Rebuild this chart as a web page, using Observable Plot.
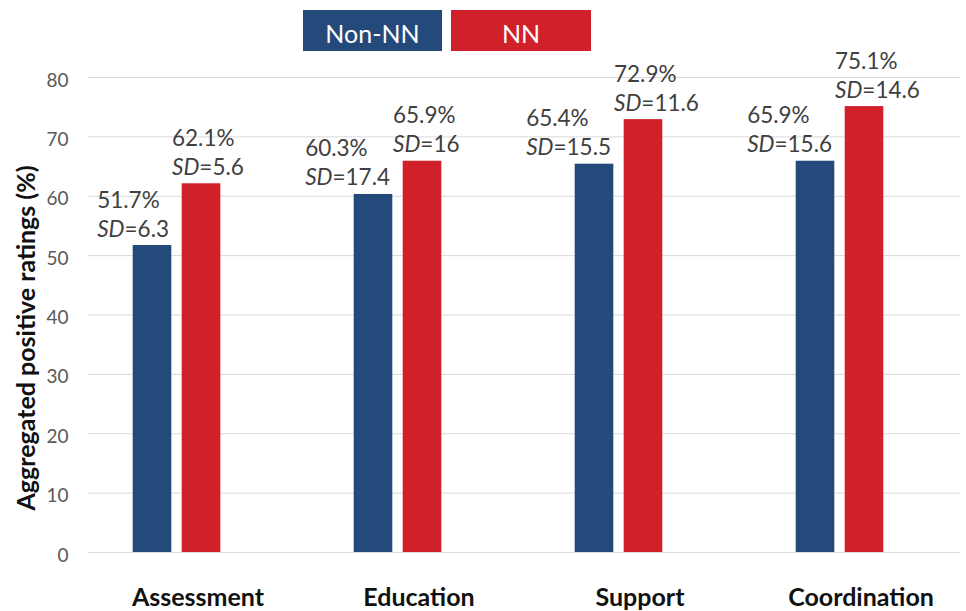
<!DOCTYPE html>
<html>
<head>
<meta charset="utf-8">
<script src="https://cdn.jsdelivr.net/npm/d3@7"></script>
<script src="https://cdn.jsdelivr.net/npm/@observablehq/plot@0.6"></script>
<style>
  html, body { margin: 0; padding: 0; background: #fff; }
  body { font-family: Lato, "Open Sans", sans-serif; width: 966px; }
  #legend { position: relative; height: 60px; }
  .key { position: absolute; top: 10px; height: 41px; line-height: 47px; overflow: hidden;
         color: #fff; font-size: 25px; text-align: center; }
  #chart svg { display: block; }
</style>
</head>
<body>
<div id="legend"></div>
<div id="chart"></div>
<script>
const categories = ["Assessment", "Education", "Support", "Coordination"];
const seriesNames = ["Non-NN", "NN"];
const nonNNValues = [51.7, 60.3, 65.4, 65.9];
const nnValues = [62.1, 65.9, 72.9, 75.1];
const nonNNSD = [6.3, 17.4, 15.5, 15.6];
const nnSD = [5.6, 16, 11.6, 14.6];
const yTicks = [0, 10, 20, 30, 40, 50, 60, 70, 80];
const seriesColors = ["#24497b", "#d0202a"];
const yLabel = "Aggregated positive ratings (%)";

const rows = categories.flatMap((c, i) => [
  {category: c, series: seriesNames[0], value: nonNNValues[i], sd: nonNNSD[i]},
  {category: c, series: seriesNames[1], value: nnValues[i], sd: nnSD[i]}
]);
const blueRows = rows.filter(d => d.series === seriesNames[0]);
const redRows = rows.filter(d => d.series === seriesNames[1]);

// Legend
const legend = document.getElementById("legend");
const keyLayout = [{left: 303, width: 139}, {left: 451, width: 140}];
seriesNames.forEach((name, i) => {
  const k = document.createElement("div");
  k.className = "key";
  k.style.left = keyLayout[i].left + "px";
  k.style.width = keyLayout[i].width + "px";
  k.style.background = seriesColors[i];
  k.textContent = name;
  legend.appendChild(k);
});

const labelFont = 22.5;
const labelColor = "#404040";

const svg = Plot.plot({
  width: 966,
  height: 551,
  marginTop: 17,
  marginBottom: 59,
  marginLeft: 88,
  marginRight: 6,
  style: {fontFamily: "Lato, 'Open Sans', sans-serif", background: "#fff", overflow: "visible"},
  x: {domain: categories, range: [63.9, 951.6], padding: 0},
  y: {domain: [0, 80]},
  color: {domain: seriesNames, range: seriesColors},
  marks: [
    Plot.gridY(yTicks, {stroke: "#d9d9d9", strokeOpacity: 1, strokeWidth: 1}),
    Plot.axisY(yTicks, {tickSize: 0, tickPadding: 20, fontSize: 19, fill: "#595959", dy: 3, label: null}),
    Plot.axisX({tickSize: 0, tickPadding: 36, fontSize: 25, fontWeight: "bold", fill: "#111", dx: 21, label: null}),
    Plot.barY(blueRows, {x: "category", y: "value", fill: "series", dx: -24.5, insetLeft: 91.2, insetRight: 91.2}),
    Plot.barY(redRows, {x: "category", y: "value", fill: "series", dx: 24.5, insetLeft: 91.2, insetRight: 91.2}),
    Plot.text(blueRows, {x: "category", y: "value", text: d => `${d.value}%`, dx: -8, dy: -38,
      textAnchor: "end", lineAnchor: "bottom", fontSize: labelFont, fill: labelColor}),
    Plot.text(blueRows, {x: "category", y: "value", text: d => `SD=${d.sd}`, dx: -8, dy: -9,
      textAnchor: "end", lineAnchor: "bottom", fontSize: labelFont, fill: labelColor}),
    Plot.text(redRows, {x: "category", y: "value", text: d => `${d.value}%`, dx: -5, dy: -38,
      textAnchor: "start", lineAnchor: "bottom", fontSize: labelFont, fill: labelColor}),
    Plot.text(redRows, {x: "category", y: "value", text: d => `SD=${d.sd}`, dx: -5, dy: -9,
      textAnchor: "start", lineAnchor: "bottom", fontSize: labelFont, fill: labelColor}),
    Plot.text([yLabel], {text: d => d, frameAnchor: "left", textAnchor: "middle", rotate: -90, dx: -61.5, dy: 23,
      fontSize: 25, fontWeight: "bold", fill: "#111"})
  ]
});

document.getElementById("chart").appendChild(svg);

const NS = "http://www.w3.org/2000/svg";
const allTexts = [...svg.querySelectorAll("text")];

// Italicise "SD" in the standard-deviation labels
const sdTexts = allTexts.filter(t => t.textContent.startsWith("SD="));
sdTexts.forEach(t => {
  const rest = t.textContent.slice(2);
  t.textContent = "";
  const it = document.createElementNS(NS, "tspan");
  it.setAttribute("font-style", "italic");
  it.textContent = "SD";
  t.appendChild(it);
  t.appendChild(document.createTextNode(rest));
});

// Left-align each Non-NN percentage line with the SD line below it
const anchorOf = t => getComputedStyle(t).textAnchor;
const bluePct = allTexts.filter(t => t.textContent.endsWith("%") && anchorOf(t) === "end");
const blueSD = sdTexts.filter(t => anchorOf(t) === "end");
bluePct.forEach((t, i) => {
  const sd = blueSD[i];
  if (!sd) return;
  const b = sd.getBBox();
  const dxAttr = parseFloat(sd.getAttribute("dx")) || 0;
  t.setAttribute("text-anchor", "start");
  t.style.textAnchor = "start";
  t.setAttribute("x", b.x - dxAttr);
});
</script>
</body>
</html>
